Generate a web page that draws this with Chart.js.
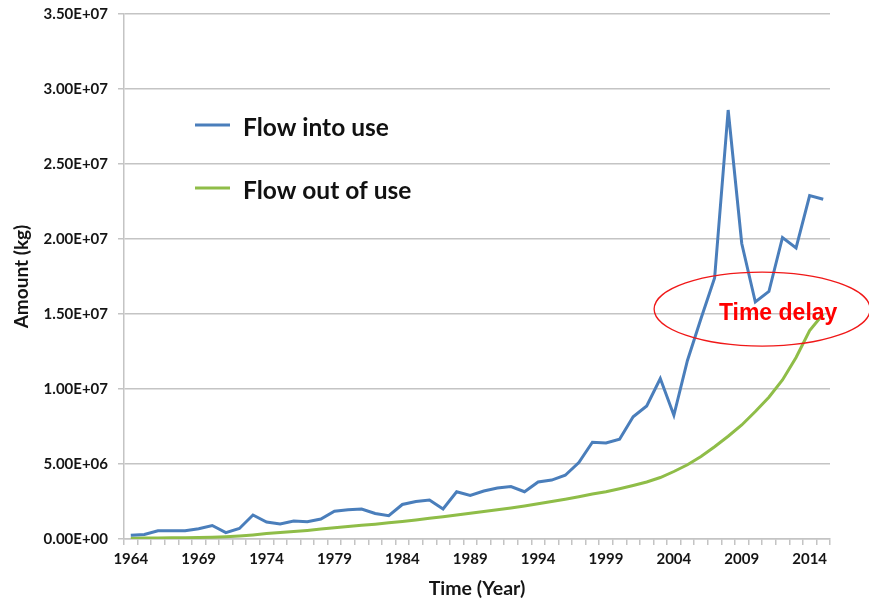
<!DOCTYPE html>
<html>
<head>
<meta charset="utf-8">
<script src="https://cdn.jsdelivr.net/npm/chart.js@4/dist/chart.umd.min.js"></script>
<style>
  html, body { margin: 0; padding: 0; background: #fff; }
  canvas { display: block; }
</style>
</head>
<body>
<canvas id="chart" width="869" height="604"></canvas>
<script>
// years on the category axis
const years = [
  "1964", "1965", "1966", "1967", "1968", "1969", "1970", "1971", "1972", "1973",
  "1974", "1975", "1976", "1977", "1978", "1979", "1980", "1981", "1982", "1983",
  "1984", "1985", "1986", "1987", "1988", "1989", "1990", "1991", "1992", "1993",
  "1994", "1995", "1996", "1997", "1998", "1999", "2000", "2001", "2002", "2003",
  "2004", "2005", "2006", "2007", "2008", "2009", "2010", "2011", "2012", "2013",
  "2014", "2015"
];

// amounts in kg
const flowIntoUse = [
  0.25e6, 0.30e6, 0.55e6, 0.55e6, 0.55e6, 0.68e6, 0.90e6, 0.42e6, 0.70e6, 1.60e6,
  1.13e6, 1.00e6, 1.20e6, 1.15e6, 1.33e6, 1.85e6, 1.95e6, 2.00e6, 1.70e6, 1.55e6,
  2.30e6, 2.50e6, 2.60e6, 2.00e6, 3.15e6, 2.90e6, 3.20e6, 3.40e6, 3.50e6, 3.15e6,
  3.80e6, 3.93e6, 4.25e6, 5.10e6, 6.45e6, 6.40e6, 6.65e6, 8.15e6, 8.87e6, 10.7e6,
  8.25e6, 11.9e6, 14.7e6, 17.4e6, 28.6e6, 19.7e6, 15.8e6, 16.5e6, 20.1e6, 19.4e6,
  22.9e6, 22.65e6
];

const flowOutOfUse = [
  0.05e6, 0.06e6, 0.07e6, 0.08e6, 0.09e6, 0.10e6, 0.12e6, 0.15e6, 0.20e6, 0.27e6,
  0.36e6, 0.43e6, 0.50e6, 0.57e6, 0.66e6, 0.75e6, 0.83e6, 0.91e6, 0.99e6, 1.08e6,
  1.17e6, 1.27e6, 1.38e6, 1.49e6, 1.60e6, 1.72e6, 1.83e6, 1.95e6, 2.07e6, 2.20e6,
  2.35e6, 2.50e6, 2.65e6, 2.82e6, 3.00e6, 3.15e6, 3.35e6, 3.57e6, 3.80e6, 4.10e6,
  4.50e6, 4.95e6, 5.50e6, 6.15e6, 6.85e6, 7.60e6, 8.50e6, 9.45e6, 10.6e6, 12.1e6,
  13.9e6, 15.0e6
];

const seriesNames = ["Flow into use", "Flow out of use"];
const seriesColors = ["#4a7ebb", "#8fbd48"];

const yTicks = { min: 0, max: 3.5e7, step: 5e6 };
const labelEvery = 5;

// annotation: red ellipse with "Time delay"
const note = { text: "Time delay", xIndex: 46.5, value: 15.33e6 };

const FONT = "Lato, 'Open Sans', 'Liberation Sans', sans-serif";
const GRID = "#c4c4c4";
const TEXT = "#151515";

function sciLabel(v) {
  if (v === 0) return "0.00E+00";
  const exp = Math.floor(Math.log10(Math.abs(v)));
  const mant = (v / Math.pow(10, exp)).toFixed(2);
  const e = String(Math.abs(exp)).padStart(2, "0");
  return mant + "E" + (exp < 0 ? "-" : "+") + e;
}

// legend drawn inside the plot, upper left
const insideLegend = {
  id: "insideLegend",
  afterDraw(chart) {
    const ctx = chart.ctx;
    ctx.save();
    chart.data.datasets.forEach((ds, i) => {
      const y = 125 + i * 63;
      ctx.strokeStyle = ds.borderColor;
      ctx.lineWidth = 3;
      ctx.beginPath();
      ctx.moveTo(195, y);
      ctx.lineTo(230, y);
      ctx.stroke();
      ctx.fillStyle = "#111";
      ctx.font = "bold 24.5px " + FONT;
      ctx.textBaseline = "middle";
      ctx.textAlign = "left";
      ctx.fillText(ds.label, 243, y + 3);
    });
    ctx.restore();
  }
};

const timeDelay = {
  id: "timeDelay",
  afterDraw(chart) {
    const ctx = chart.ctx;
    const cx = chart.scales.x.getPixelForValue(note.xIndex);
    const cy = chart.scales.y.getPixelForValue(note.value);
    ctx.save();
    ctx.strokeStyle = "#f01818";
    ctx.lineWidth = 1.3;
    ctx.beginPath();
    ctx.ellipse(cx, cy, 108, 37, 0, 0, Math.PI * 2);
    ctx.stroke();
    ctx.fillStyle = "#ff0000";
    ctx.font = "bold 23px 'Liberation Sans', Arial, sans-serif";
    ctx.textAlign = "center";
    ctx.textBaseline = "middle";
    ctx.fillText(note.text, cx + 16, cy + 5);
    ctx.restore();
  }
};

new Chart(document.getElementById("chart"), {
  type: "line",
  data: {
    labels: years,
    datasets: [
      {
        label: seriesNames[0],
        data: flowIntoUse,
        borderColor: seriesColors[0],
        borderWidth: 3,
        pointRadius: 0,
        tension: 0,
        fill: false
      },
      {
        label: seriesNames[1],
        data: flowOutOfUse,
        borderColor: seriesColors[1],
        borderWidth: 3,
        pointRadius: 0,
        tension: 0,
        fill: false
      }
    ]
  },
  options: {
    responsive: false,
    animation: false,
    layout: { padding: { top: 14, right: 39, bottom: 0, left: 0 } },
    plugins: {
      legend: { display: false },
      tooltip: { enabled: false }
    },
    scales: {
      x: {
        type: "category",
        offset: true,
        afterFit(s) { s.height = 65; },
        grid: {
          offset: true,
          drawOnChartArea: false,
          drawTicks: true,
          tickLength: 6,
          color: GRID,
          lineWidth: 1.5
        },
        border: { color: GRID, width: 1.5 },
        ticks: {
          autoSkip: false,
          maxRotation: 0,
          padding: 5,
          color: TEXT,
          font: { family: FONT, size: 15, weight: "bold" },
          callback(v, i) { return i % labelEvery === 0 ? years[i] : ""; }
        },
        title: {
          display: true,
          text: "Time (Year)",
          color: TEXT,
          font: { family: FONT, size: 19.5, weight: "bold" },
          padding: { top: 0, bottom: 4 }
        }
      },
      y: {
        min: yTicks.min,
        max: yTicks.max,
        afterFit(s) {
          s.width = 124;
          s.paddingTop = 0;
          s.paddingBottom = 0;
        },
        grid: {
          color: GRID,
          lineWidth: 1.5,
          drawTicks: true,
          tickLength: 6
        },
        border: { color: GRID, width: 1.5 },
        ticks: {
          stepSize: yTicks.step,
          padding: 10,
          color: TEXT,
          font: { family: FONT, size: 15, weight: "bold" },
          callback(v) { return sciLabel(v); }
        },
        title: {
          display: true,
          text: "Amount (kg)",
          color: TEXT,
          font: { family: FONT, size: 19, weight: "bold" },
          padding: { top: 10, bottom: 0 }
        }
      }
    }
  },
  plugins: [insideLegend, timeDelay]
});
</script>
</body>
</html>
